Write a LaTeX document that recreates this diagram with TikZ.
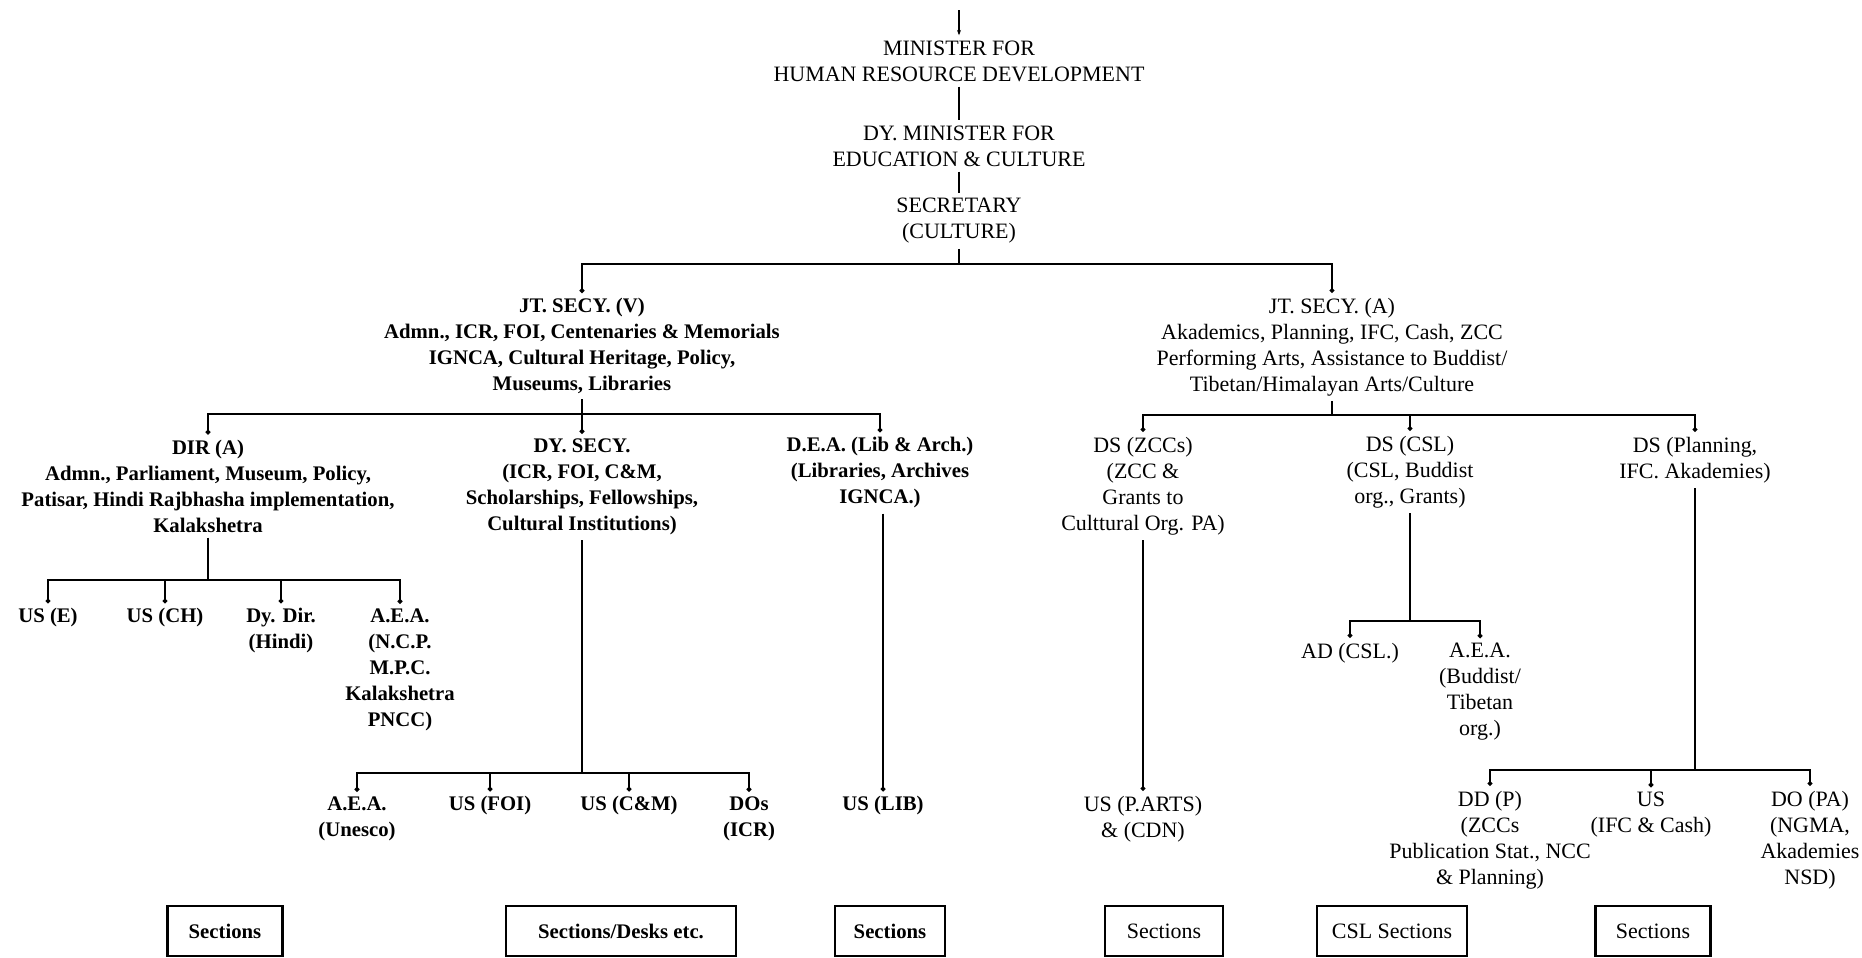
\documentclass[tikz,border=0pt]{standalone}
\usepackage{fontspec}
\setmainfont{Liberation Serif}
\usetikzlibrary{arrows.meta, positioning}
\tikzset{
  every picture/.style={line width=1.1pt},
  post/.style={align=center, inner sep=0pt, outer sep=3pt, font=\fontsize{12.5}{14.8}\selectfont},
  heavy/.style={post, font=\fontsize{11.8}{14.8}\selectfont\bfseries},
  sect/.style={draw, line width=1.3pt, minimum height=1cm, inner sep=0pt, font=\fontsize{12.5}{14.8}\selectfont},
  drop/.style={-{Circle[length=2.6pt]}},
}

\begin{document}
\begin{tikzpicture}[x=0.02cm, y=-0.02cm]
  \useasboundingbox (0,0) rectangle (1862,957);
  \coordinate (top) at (959,10);
  \node[post] (min) at (959,61) {MINISTER FOR\\HUMAN RESOURCE DEVELOPMENT};
  \node[post] (dymin) at (959,146) {DY. MINISTER FOR\\EDUCATION \& CULTURE};
  \node[post] (sec) at (959,221) {SECRETARY\\(CULTURE)};
  \draw[-{Stealth[length=3pt]}] (top) -- (min);
  \draw (min) -- (dymin);
  \draw (dymin) -- (sec);

  % joint secretaries
  \coordinate (j0) at (959,264);
  \node[heavy] (jtv) at (582,346) {JT. SECY. (V)\\Admn., ICR, FOI, Centenaries \& Memorials\\IGNCA, Cultural Heritage, Policy,\\Museums, Libraries};
  \node[post] (jta) at (1332,347) {JT. SECY. (A)\\Akademics, Planning, IFC, Cash, ZCC\\Performing Arts, Assistance to Buddist/\\Tibetan/Himalayan Arts/Culture};
  \draw (sec) -- (j0);
  \draw[drop] (j0) -| (jtv);
  \draw[drop] (j0) -| (jta);

  % JT. SECY. (V)
  \coordinate (jv) at (582,414);
  \node[heavy] (dira) at (208,486) {DIR (A)\\Admn., Parliament, Museum, Policy,\\Patisar, Hindi Rajbhasha implementation,\\Kalakshetra};
  \node[heavy] (dysecy) at (582,487) {DY. SECY.\\(ICR, FOI, C\&M,\\Scholarships, Fellowships,\\Cultural Institutions)};
  \node[heavy] (dea) at (880,473) {D.E.A. (Lib \& Arch.)\\(Libraries, Archives\\IGNCA.)};
  \draw (jtv) -- (jv);
  \draw[drop] (jv) -| (dira);
  \draw[drop] (jv) -- (dysecy);
  \draw[drop] (jv) -| (dea);

  \coordinate (jd) at (208,580);
  \node[heavy] (use) at (48,618) {US (E)};
  \node[heavy] (usch) at (165,618) {US (CH)};
  \node[heavy] (dydir) at (281,631) {Dy. Dir.\\(Hindi)};
  \node[heavy] (aea1) at (400,670) {A.E.A.\\(N.C.P.\\M.P.C.\\Kalakshetra\\PNCC)};
  \draw (dira) -- (jd);
  \draw[drop] (jd) -| (use);
  \draw[drop] (jd) -| (usch);
  \draw[drop] (jd) -| (dydir);
  \draw[drop] (jd) -| (aea1);

  \coordinate (js) at (582,773);
  \node[heavy] (aea2) at (357,819) {A.E.A.\\(Unesco)};
  \node[heavy] (usfoi) at (490,806) {US (FOI)};
  \node[heavy] (uscm) at (629,806) {US (C\&M)};
  \node[heavy] (dos) at (749,819) {DOs\\(ICR)};
  \node[heavy] (uslib) at (883,806) {US (LIB)};
  \draw (dysecy) -- (js);
  \draw[drop] (js) -| (aea2);
  \draw[drop] (js) -| (usfoi);
  \draw[drop] (js) -| (uscm);
  \draw[drop] (js) -| (dos);
  \draw[drop] (dea.south -| uslib) -- (uslib);

  % JT. SECY. (A)
  \coordinate (ja) at (1332,415);
  \node[post] (dszcc) at (1143,486) {DS (ZCCs)\\(ZCC \&\\Grants to\\Culttural Org. PA)};
  \node[post] (dscsl) at (1410,472) {DS (CSL)\\(CSL, Buddist\\org., Grants)};
  \node[post] (dsplan) at (1695,460) {DS (Planning,\\IFC. Akademies)};
  \draw (jta) -- (ja);
  \draw[drop] (ja) -| (dszcc);
  \draw[drop] (ja) -| (dscsl);
  \draw[drop] (ja) -| (dsplan);

  \node[post] (usparts) at (1143,819) {US (P.ARTS)\\\& (CDN)};
  \draw[drop] (dszcc) -- (usparts);

  \coordinate (jc) at (1410,621);
  \node[post] (adcsl) at (1350,653) {AD (CSL.)};
  \node[post] (aea3) at (1480,692) {A.E.A.\\(Buddist/\\Tibetan\\org.)};
  \draw (dscsl) -- (jc);
  \draw[drop] (jc) -| (adcsl);
  \draw[drop] (jc) -| (aea3);

  \coordinate (jp) at (1695,770);
  \node[post] (ddp) at (1490,840) {DD (P)\\(ZCCs\\Publication Stat., NCC\\\& Planning)};
  \node[post] (usifc) at (1651,815) {US\\(IFC \& Cash)};
  \node[post] (dopa) at (1810,840) {DO (PA)\\(NGMA,\\Akademies\\NSD)};
  \draw (dsplan) -- (jp);
  \draw[drop] (jp) -| (ddp);
  \draw[drop] (jp) -| (usifc);
  \draw[drop] (jp) -| (dopa);

  % sections
  \node[sect, minimum width=2.3cm, font=\fontsize{11.8}{14.8}\selectfont\bfseries] (s1) at (225,931) {Sections};
  \node[sect, minimum width=4.6cm, font=\fontsize{11.8}{14.8}\selectfont\bfseries] (s2) at (621,931) {Sections/Desks etc.};
  \node[sect, minimum width=2.2cm, font=\fontsize{11.8}{14.8}\selectfont\bfseries] (s3) at (890,931) {Sections};
  \node[sect, minimum width=2.35cm] (s4) at (1164,931) {Sections};
  \node[sect, minimum width=3cm] (s5) at (1392,931) {CSL Sections};
  \node[sect, minimum width=2.3cm] (s6) at (1653,931) {Sections};
\end{tikzpicture}
\end{document}
